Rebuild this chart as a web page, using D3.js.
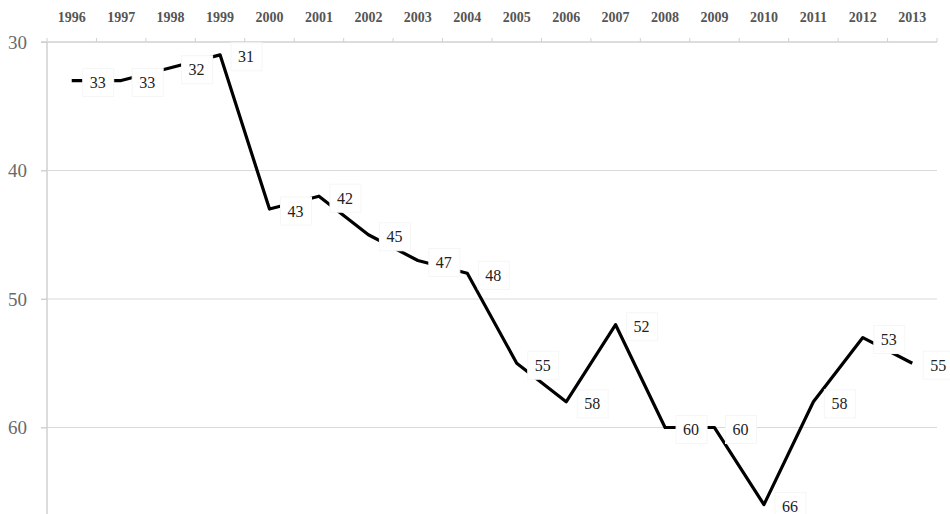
<!DOCTYPE html>
<html><head><meta charset="utf-8">
<script src="https://cdn.jsdelivr.net/npm/d3@7"></script>
<style>body{margin:0;background:#fff}svg{display:block}</style>
</head><body>
<svg id="c" width="950" height="514"></svg>
<script>
const years = ["1996","1997","1998","1999","2000","2001","2002","2003","2004","2005","2006","2007","2008","2009","2010","2011","2012","2013"];
const values = [33,33,32,31,43,42,45,47,48,55,58,52,60,60,66,58,53,55];
const yTicks = [30,40,50,60];

const svg = d3.select("#c");
const L = 47, R = 937, T = 42, B = 514;
const x = d3.scaleBand().domain(years).range([L, R]).padding(0);
const y = d3.scaleLinear().domain([30, 66.73]).range([T, B]);
const cx = d => x(d) + x.bandwidth() / 2;

// gridlines
svg.append("g").selectAll("line").data(yTicks.slice(1)).join("line")
  .attr("x1", L - 6).attr("x2", R).attr("y1", d => y(d)).attr("y2", d => y(d))
  .attr("stroke", "#d9d9d9").attr("stroke-width", 1.2);

// top axis
const xa = svg.append("g").attr("transform", `translate(0,${T})`)
  .call(d3.axisTop(x).tickSize(0).tickPadding(20));
xa.attr("font-size", 14).attr("font-family", "Liberation Serif, serif");
xa.select(".domain").attr("stroke", "#d0d0d0").attr("stroke-width", 1.5).attr("d", `M${L - 6},0H${R}`);
xa.selectAll("text").attr("font-weight", "bold").attr("fill", "#555");
// boundary ticks
const bounds = years.map(d => x(d)).concat([R]);
svg.append("g").selectAll("line").data(bounds).join("line")
  .attr("x1", d => d).attr("x2", d => d).attr("y1", T - 4).attr("y2", T)
  .attr("stroke", "#d0d0d0").attr("stroke-width", 1);

// left axis
const ya = svg.append("g").attr("transform", `translate(${L},0)`)
  .call(d3.axisLeft(y).tickValues(yTicks).tickSize(6).tickPadding(14));
ya.attr("font-size", 19).attr("font-family", "Liberation Serif, serif");
ya.select(".domain").attr("stroke", "#d0d0d0").attr("stroke-width", 1.5).attr("d", `M0,${T}V${B}`);
ya.selectAll(".tick line").attr("stroke", "#d0d0d0");
ya.selectAll("text").attr("fill", "#6a6a6a");

// line
const data = years.map((d, i) => ({year: d, v: values[i]}));
svg.append("path").datum(data)
  .attr("fill", "none").attr("stroke", "#000").attr("stroke-width", 3.2)
  .attr("stroke-linejoin", "round")
  .attr("d", d3.line().x(d => cx(d.year)).y(d => y(d.v)));

// labels
const lg = svg.append("g").selectAll("g").data(data).join("g")
  .attr("transform", d => `translate(${cx(d.year) + 26},${y(d.v) + 2})`);
lg.append("rect").attr("x", -15).attr("y", -14).attr("width", 31).attr("height", 28)
  .attr("fill", "#fff").attr("stroke", "#f6f6f6").attr("stroke-width", 1);
lg.append("text").text(d => d.v).attr("text-anchor", "middle").attr("dy", "0.35em")
  .attr("font-family", "Liberation Serif, serif").attr("font-size", 16).attr("fill", "#222");
</script>
</body></html>
